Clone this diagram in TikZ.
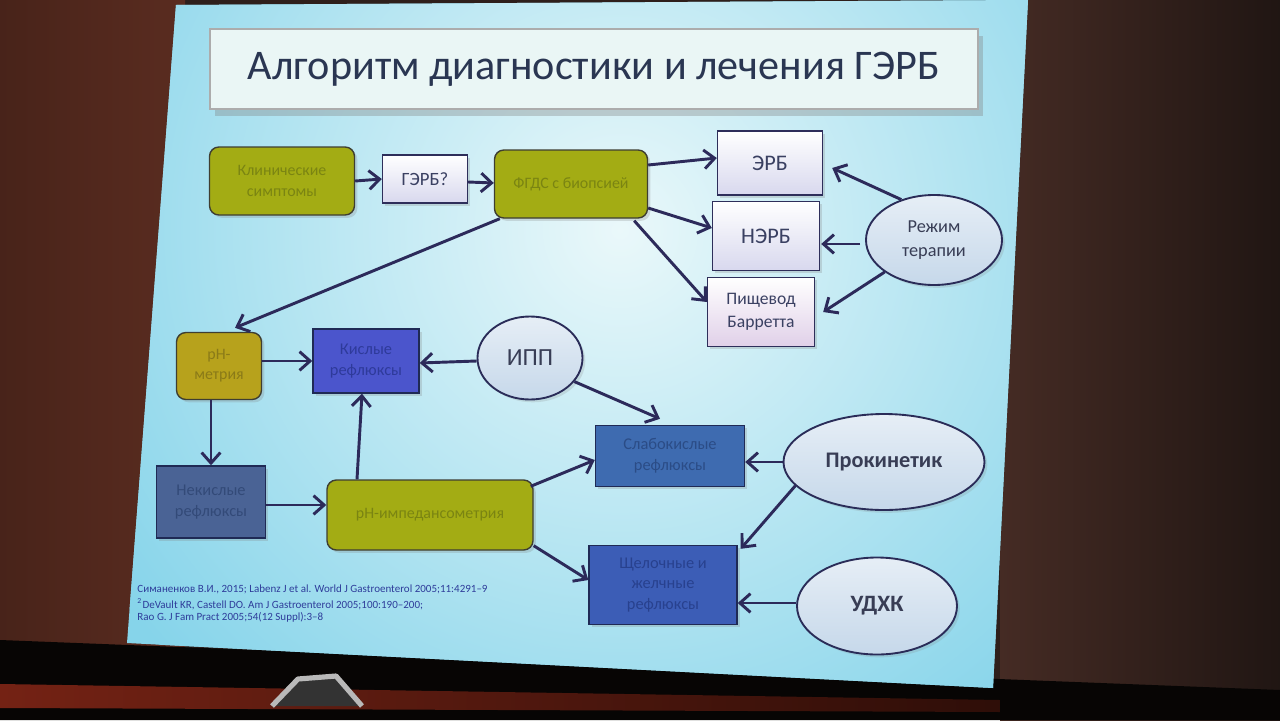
\documentclass[tikz,border=0pt]{standalone}
\usepackage{fontspec}
\setmainfont{Carlito}
\usetikzlibrary{arrows.meta,shapes.geometric,shadows,calc}

\definecolor{bgdark}{HTML}{2E1F1B}
\definecolor{bgleft}{HTML}{5A2C20}
\definecolor{bgright}{HTML}{452B24}
\definecolor{redstrip}{HTML}{742214}
\definecolor{slidein}{HTML}{EAF8FA}
\definecolor{slideout}{HTML}{86D4EA}
\definecolor{titlefill}{HTML}{EAF6F5}
\definecolor{titletxt}{HTML}{2A3652}
\definecolor{arrc}{HTML}{2C2A5A}
\definecolor{olive}{HTML}{A3AC14}
\definecolor{oliveborder}{HTML}{3E3E32}
\definecolor{olivetxt}{HTML}{7A8412}
\definecolor{mustard}{HTML}{B7A21C}
\definecolor{mustardtxt}{HTML}{8A7A18}
\definecolor{lav}{HTML}{D8D8EE}
\definecolor{pinklav}{HTML}{E0D0E8}
\definecolor{lavtxt}{HTML}{3A4062}
\definecolor{boxborder}{HTML}{2E2E5A}
\definecolor{blueborder}{HTML}{1F2A55}
\definecolor{kislc}{HTML}{4B55CC}
\definecolor{kisltxt}{HTML}{2E3A9A}
\definecolor{nekislc}{HTML}{4A6395}
\definecolor{nekisltxt}{HTML}{334A78}
\definecolor{slabc}{HTML}{3E6BB0}
\definecolor{slabtxt}{HTML}{2B4C86}
\definecolor{shelc}{HTML}{3C5DB6}
\definecolor{sheltxt}{HTML}{28418E}
\definecolor{ellc}{HTML}{C6D8EA}
\definecolor{elltop}{HTML}{E6EEF6}
\definecolor{ellborder}{HTML}{2A2C58}
\definecolor{elltxt}{HTML}{383D55}
\definecolor{reftxt}{HTML}{2E3C9A}

\begin{document}
\begin{tikzpicture}[x=0.015cm,y=-0.015cm,
  sz/.style 2 args={minimum width=#1*0.015cm,minimum height=#2*0.015cm},
  base/.style={inner sep=1pt,align=center,draw,line width=0.6pt,
    drop shadow={opacity=0.25,shadow xshift=1.2pt,shadow yshift=-1.2pt}},
  olivebox/.style={base,rounded corners=4pt,fill=olive,draw=oliveborder,text=olivetxt,
    font=\fontsize{6.8}{8.6}\selectfont},
  lavbox/.style={base,draw=boxborder,top color=white,bottom color=lav,text=lavtxt},
  bluebox/.style={base,draw=blueborder,font=\fontsize{7}{8.8}\selectfont},
  ell/.style={ellipse,draw=ellborder,line width=0.8pt,top color=elltop,bottom color=ellc,
    inner sep=0pt,align=center,text=elltxt,
    drop shadow={opacity=0.2,shadow xshift=1.2pt,shadow yshift=-1.2pt}},
  arr/.style={draw=arrc,line width=1.25pt,-{Straight Barb[length=4.5pt,width=8pt]}},
  reftext/.style={anchor=north west,text=reftxt,inner sep=0pt,
    font=\fontsize{4.7}{5.6}\selectfont}
]
\useasboundingbox (0,0) rectangle (1280,720);
% photo surroundings
\fill[bgdark] (0,0) rectangle (1280,720);
\shade[left color=bgleft!80!black,right color=bgleft] (0,0) rectangle (185,660);
\shade[left color=bgright,right color=bgdark!70!black] (1000,0) rectangle (1280,720);
\fill[black!85!bgdark] (0,640) -- (1280,690) -- (1280,720) -- (0,720) -- cycle;
\shade[left color=redstrip,right color=redstrip!40!black] (0,684) -- (1000,700) -- (1000,712) -- (0,708) -- cycle;
\fill[black!80] (272,706) -- (298,679) -- (336,676) -- (362,706) -- cycle;
\draw[gray!55,line width=2.2pt,line join=round] (272,706) -- (298,679) -- (336,676) -- (362,706);
% slide
\fill[slideout] (176,5) -- (1028,0) -- (993,688) -- (127,643) -- cycle;
\begin{scope}
  \clip (176,5) -- (1028,0) -- (993,688) -- (127,643) -- cycle;
  \shade[inner color=slidein,outer color=slideout] (620,230) circle (620);
\end{scope}
% title
\node[draw=gray!65,line width=0.8pt,fill=titlefill,sz={768}{80},
  drop shadow={opacity=0.35,shadow xshift=2pt,shadow yshift=-3pt},
  text=titletxt,font=\fontsize{18}{22}\selectfont] (title) at (594,69)
  {Алгоритм диагностики и лечения ГЭРБ};
% nodes
\node[olivebox,sz={145}{68}] (klin) at (282,181) {Клинические\\симптомы};
\node[lavbox,sz={85}{48},font=\fontsize{8}{9}\selectfont] (gerb) at (425,179) {ГЭРБ?};
\node[olivebox,sz={153}{68}] (fgds) at (571,184) {ФГДС с биопсией};
\node[lavbox,sz={105}{64},font=\fontsize{9.5}{11}\selectfont] (erb) at (770,163) {ЭРБ};
\node[lavbox,sz={107}{69},font=\fontsize{9.5}{11}\selectfont] (nerb) at (766,236) {НЭРБ};
\node[lavbox,bottom color=pinklav,sz={107}{69},font=\fontsize{7.5}{10}\selectfont] (barr) at (761,312) {Пищевод\\Барретта};
\node[ell,sz={136}{90},font=\fontsize{7.8}{10.5}\selectfont] (rezhim) at (934,240) {Режим\\терапии};
\node[olivebox,fill=mustard,text=mustardtxt,sz={85}{67}] (phm) at (219,366) {pH-\\метрия};
\node[bluebox,fill=kislc,text=kisltxt,sz={106}{64}] (kisl) at (366,361) {Кислые\\рефлюксы};
\node[ell,sz={105}{83},font=\fontsize{10.5}{12}\selectfont] (ipp) at (530,358) {ИПП};
\node[bluebox,fill=nekislc,text=nekisltxt,sz={109}{72}] (nekisl) at (211,502) {Некислые\\рефлюксы};
\node[olivebox,sz={206}{70}] (phimp) at (430,515) {pH-импедансометрия};
\node[bluebox,fill=slabc,text=slabtxt,sz={149}{61}] (slab) at (670,456) {Слабокислые\\рефлюксы};
\node[ell,sz={201}{96},font=\bfseries\fontsize{9.5}{11}\selectfont] (prok) at (884,462) {Прокинетик};
\node[bluebox,fill=shelc,text=sheltxt,sz={148}{79}] (shel) at (663,585) {Щелочные и\\желчные\\рефлюксы};
\node[ell,sz={160}{97},font=\bfseries\fontsize{10}{12}\selectfont] (udxk) at (877,606) {УДХК};
% references
\node[reftext] (ref1) at (137,584) {Симаненков В.И., 2015; Labenz J et al. World J Gastroenterol 2005;11:4291--9};
\node[reftext] (ref2) at (137,598) {\textsuperscript{2}DeVault KR, Castell DO. Am J Gastroenterol 2005;100:190--200;};
\node[reftext] (ref3) at (137,612) {Rao G. J Fam Pract 2005;54(12 Suppl):3--8};
% connectors
\draw[arr] (klin.east) -- (gerb.west);
\draw[arr] ($(gerb.east)+(0,3)$) -- ($(fgds.west)+(0,-1)$);
\draw[arr] ($(fgds.east)+(0,-19)$) -- ($(erb.west)+(0,-5)$);
\draw[arr] ($(fgds.east)+(0,24)$) -- ($(nerb.west)+(0,-8)$);
\draw[arr] ($(fgds.south east)+(-14,2)$) -- ($(barr.west)+(0,-10)$);
\draw[arr] (rezhim.129) -- ($(erb.east)+(9,5)$);
\draw[arr] ($(rezhim.west)+(-5,4)$) -- ($(nerb.east)+(1,8)$);
\draw[arr] (rezhim.213) -- ($(barr.east)+(8,0)$);
\draw[arr] ($(fgds.south west)+(6,0)$) -- ($(phm.north)+(16,-4)$);
\draw[arr] ($(phm.east)+(0,-5)$) -- (kisl.west);
\draw[arr] ($(ipp.west)+(0,3)$) -- ($(kisl.east)+(0,2)$);
\draw[arr] (ipp.-28) -- ($(slab.north)+(-10,-6)$);
\draw[arr] ($(phm.south)+(-8,0)$) -- (nekisl.north);
\draw[arr] ($(nekisl.east)+(0,3)$) -- ($(phimp.west)+(0,-10)$);
\draw[arr] ($(phimp.north)+(-73,0)$) -- ($(kisl.south)+(-4,0)$);
\draw[arr] ($(phimp.north east)+(-3,7)$) -- ($(slab.west)+(0,4)$);
\draw[arr] ($(phimp.south east)+(0,-5)$) -- ($(shel.west)+(0,-5)$);
\draw[arr] (prok.west) -- ($(slab.east)+(0,6)$);
\draw[arr] (prok.195) -- ($(shel.north east)+(3,4)$);
\draw[arr] ($(udxk.west)+(0,-3)$) -- ($(shel.east)+(0,18)$);
\end{tikzpicture}
\end{document}
